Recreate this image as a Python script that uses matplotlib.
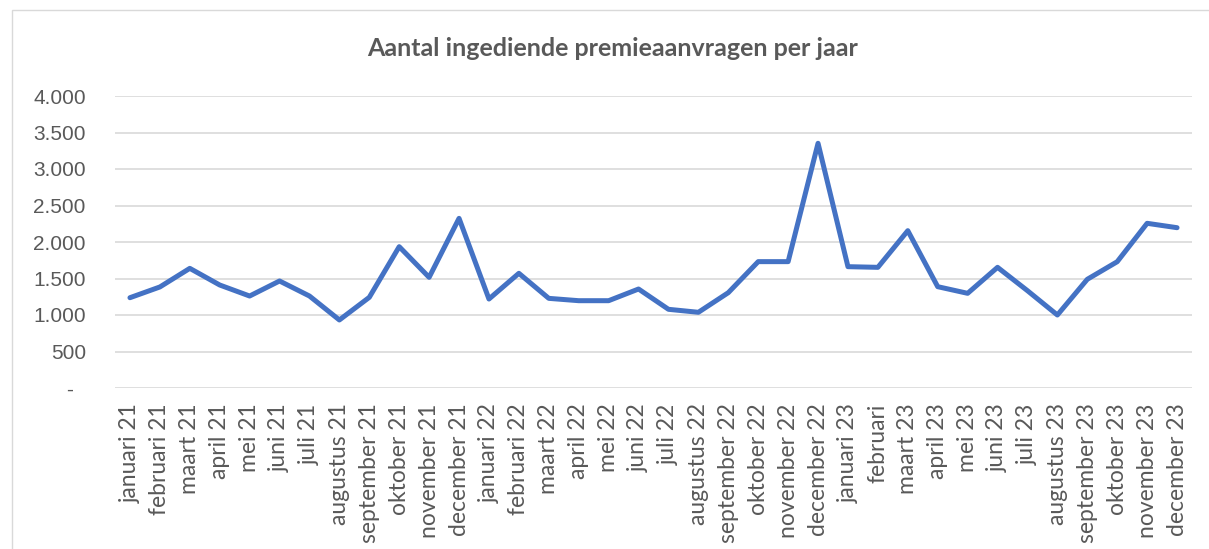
import numpy as np
import matplotlib.pyplot as plt
from matplotlib.patches import Rectangle
from matplotlib.ticker import FuncFormatter

plt.rcParams['font.family'] = ['Lato', 'DejaVu Sans']

months = ["januari 21", "februari 21", "maart 21", "april 21", "mei 21", "juni 21",
          "juli 21", "augustus 21", "september 21", "oktober 21", "november 21", "december 21",
          "januari 22", "februari 22", "maart 22", "april 22", "mei 22", "juni 22",
          "juli 22", "augustus 22", "september 22", "oktober 22", "november 22", "december 22",
          "januari 23", "februari", "maart 23", "april 23", "mei 23", "juni 23",
          "juli 23", "augustus 23", "september 23", "oktober 23", "november 23", "december 23"]
aanvragen = [1237, 1384, 1639, 1411, 1260, 1466, 1260, 932, 1242, 1936, 1516, 2324,
             1219, 1571, 1228, 1196, 1196, 1356, 1078, 1037, 1306, 1731, 1731, 3352,
             1662, 1653, 2155, 1388, 1297, 1653, 1333, 1000, 1489, 1730, 2256, 2196]
y_ticks = [0, 500, 1000, 1500, 2000, 2500, 3000, 3500, 4000]

grey = "#595959"

fig = plt.figure(figsize=(12.09, 5.49), dpi=100)
fig.patches.append(Rectangle((12 / 1209, -0.01), 1.0, 1 - 10 / 549 + 0.01, transform=fig.transFigure,
                             fill=False, edgecolor="#d9d9d9", linewidth=1))
ax = fig.add_axes([115 / 1209, 1 - 388 / 549, (1192 - 115) / 1209, (388 - 96) / 549])

x = np.arange(len(months))
ax.plot(x, aanvragen, color="#4472c4", linewidth=3.6, solid_joinstyle="round",
        solid_capstyle="round", zorder=3)

ax.set_xlim(-0.5, len(months) - 0.5)
ax.set_ylim(0, 4000)
ax.set_yticks(y_ticks)
ax.yaxis.set_major_formatter(FuncFormatter(
    lambda v, p: "-  " if v == 0 else f"{int(v):,}".replace(",", ".")))
ax.set_xticks(x)
ax.set_xticklabels(months, rotation=90, fontsize=16.5)
for lbl in ax.get_yticklabels():
    lbl.set_family("Liberation Sans")
    lbl.set_fontsize(15)
ax.grid(axis="y", color="#d9d9d9", linewidth=1.2)
ax.set_axisbelow(True)
for s in ax.spines.values():
    s.set_visible(False)
ax.tick_params(axis="both", length=0, colors=grey)
ax.tick_params(axis="y", pad=21)
ax.tick_params(axis="x", pad=11)

fig.text(0.507, 1 - 48 / 549, "Aantal ingediende premieaanvragen per jaar", ha="center", va="center",
         fontsize=18, fontweight="bold", color=grey)

fig.savefig("out.png", dpi=100)
